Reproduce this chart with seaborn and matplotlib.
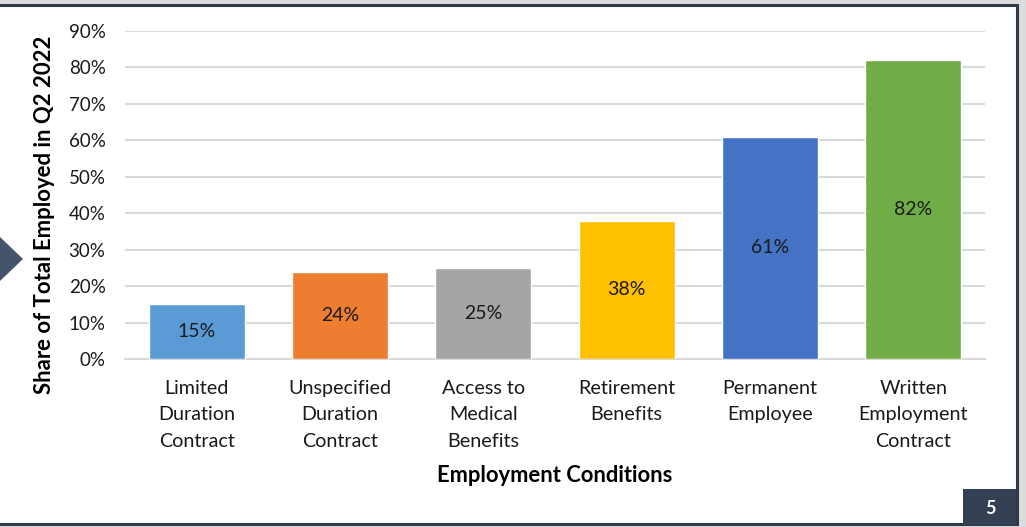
import matplotlib
matplotlib.use("Agg")
import matplotlib.pyplot as plt
from matplotlib.patches import Rectangle, Polygon
import seaborn as sns
import pandas as pd

categories = [
    "Limited\nDuration\nContract",
    "Unspecified\nDuration\nContract",
    "Access to\nMedical\nBenefits",
    "Retirement\nBenefits",
    "Permanent\nEmployee",
    "Written\nEmployment\nContract",
]
shares = [15, 24, 25, 38, 61, 82]
bar_colors = ["#5B9BD5", "#ED7D31", "#A5A5A5", "#FFC000", "#4472C4", "#70AD47"]
y_ticks = [0, 10, 20, 30, 40, 50, 60, 70, 80, 90]
y_tick_labels = [f"{t}%" for t in y_ticks]

sns.set_theme(style="white")
plt.rcParams["font.family"] = ["Lato", "DejaVu Sans"]

W, H = 1026, 527
fig = plt.figure(figsize=(W / 100, H / 100), dpi=100, facecolor="#DCDCDC")

# slide panel with dark frame
frame = Rectangle((-5 / W, 1 - 524 / H), (1017 + 5) / W, (524 - 5) / H,
                  transform=fig.transFigure, facecolor="white",
                  edgecolor="#2F3B48", linewidth=2.2, zorder=-10)
fig.patches.append(frame)

# left pointer triangle
tri = Polygon([(0, 1 - 237 / H), (23 / W, 1 - 259 / H), (0, 1 - 281 / H)],
              closed=True, transform=fig.transFigure,
              facecolor="#44546A", edgecolor="none", zorder=-5)
fig.patches.append(tri)

# page number box
box = Rectangle((963 / W, 1 - 525 / H), (1016 - 963) / W, (525 - 489) / H,
                transform=fig.transFigure, facecolor="#344054",
                edgecolor="none", zorder=-5)
fig.patches.append(box)
fig.text(990 / W, 1 - 508 / H, "5", color="white", fontsize=13,
         fontweight="bold", ha="center", va="center")

ax = fig.add_axes([125 / W, 1 - 359 / H, (985 - 125) / W, (359 - 31) / H])
ax.set_facecolor("none")

df = pd.DataFrame({"condition": categories, "share": shares})
sns.barplot(data=df, x="condition", y="share", hue="condition",
            palette=bar_colors, legend=False, width=0.67, saturation=1,
            ax=ax, zorder=3)

ax.set_ylim(0, 90)
ax.set_yticks(y_ticks)
ax.set_yticklabels(y_tick_labels)
ax.yaxis.grid(True, color="#D9D9D9", linewidth=1.5, zorder=0)
ax.set_axisbelow(True)
for side in ["top", "right", "left"]:
    ax.spines[side].set_visible(False)
ax.spines["bottom"].set_color("#D9D9D9")
ax.spines["bottom"].set_linewidth(1.5)
ax.tick_params(axis="y", length=0, pad=14, labelsize=13.5, labelcolor="#1A1A1A")
ax.tick_params(axis="x", length=0, pad=15, labelsize=14.2, labelcolor="#1A1A1A")
for lbl in ax.get_xticklabels():
    lbl.set_linespacing(1.68)
ax.set_xlabel("")
ax.set_ylabel("")

for patch, val in zip(ax.patches, shares):
    ax.text(patch.get_x() + patch.get_width() / 2, val / 2, f"{val}%",
            ha="center", va="center", fontsize=14, color="#1A1A1A", zorder=4)

fig.text(45 / W, 1 - 215 / H, "Share of Total Employed in Q2 2022",
         rotation=90, ha="center", va="center", fontsize=15.9,
         fontweight="bold", color="black")
fig.text(555 / W, 1 - 475 / H, "Employment Conditions", ha="center",
         va="center", fontsize=15.8, fontweight="bold", color="black")

fig.savefig("out.png", dpi=100, facecolor=fig.get_facecolor())
